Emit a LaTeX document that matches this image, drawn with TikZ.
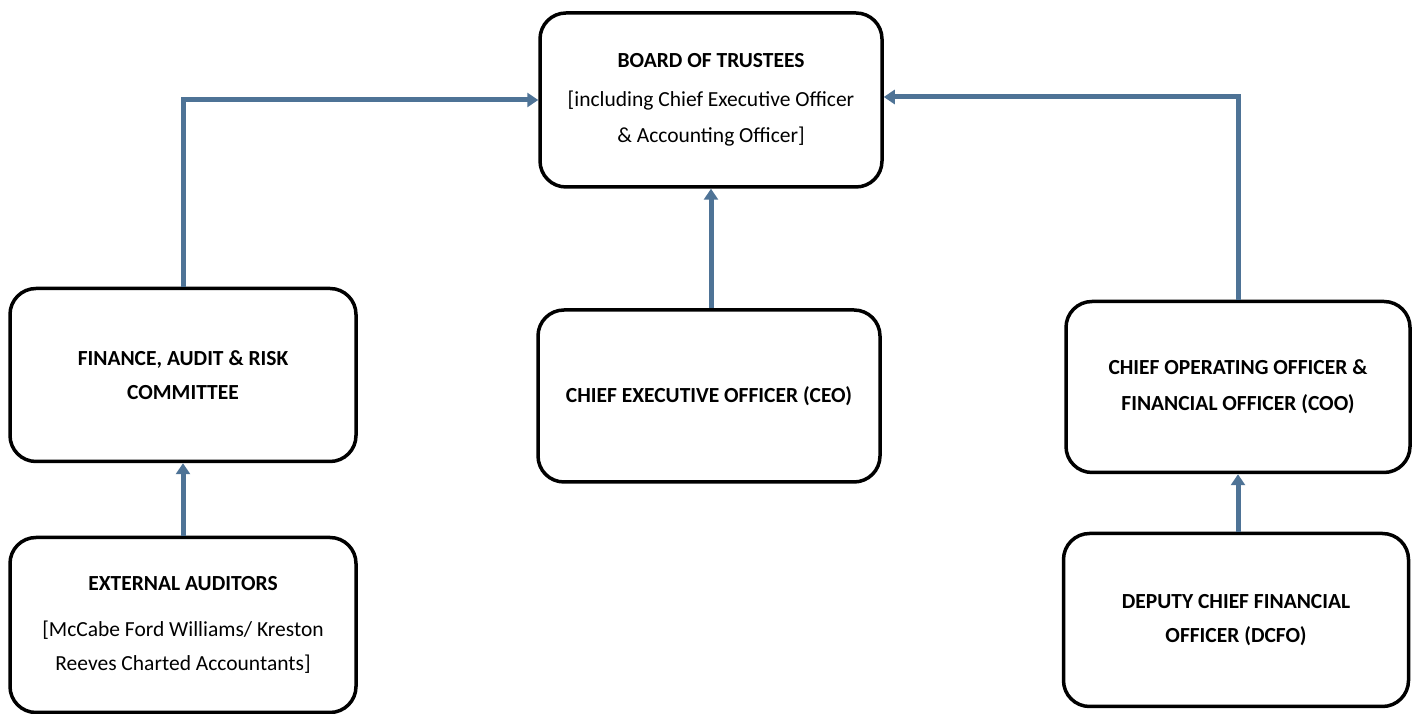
\documentclass[tikz,border=0pt]{standalone}
\usepackage{fontspec}
\setmainfont{Carlito}
\usetikzlibrary{arrows.meta}
\definecolor{arrowblue}{HTML}{4E7396}
\tikzset{
  box/.style={draw=black, line width=3.5pt, rounded corners=26pt, fill=white,
    align=center, inner sep=0pt, font=\fontsize{21.5pt}{34pt}\selectfont},
  conn/.style={draw=arrowblue, line width=5pt,
    -{Triangle[length=11pt,width=14pt]}},
}
\newcommand{\ttl}[1]{\textbf{#1}}
\begin{document}
\begin{tikzpicture}[x=1pt,y=1pt]
\useasboundingbox (0,0) rectangle (1416,714);
% boxes: centre (px, 714-py)
\node[box, minimum width=342pt, minimum height=174pt] (board) at (711,614)
  {\ttl{BOARD OF TRUSTEES}\\[5pt][including Chief Executive Officer\\[2pt]\& Accounting Officer]};
\node[box, minimum width=346pt, minimum height=173pt] (fin) at (183,339)
  {\ttl{FINANCE, AUDIT \& RISK}\\\ttl{COMMITTEE}};
\node[box, minimum width=342pt, minimum height=172pt] (ceo) at (709,318)
  {\ttl{CHIEF EXECUTIVE OFFICER (CEO)}};
\node[box, minimum width=344pt, minimum height=171pt] (coo) at (1238,327)
  {\ttl{CHIEF OPERATING OFFICER \&}\\[2pt]\ttl{FINANCIAL OFFICER (COO)}};
\node[box, minimum width=346pt, minimum height=175pt] (ext) at (183,89)
  {\ttl{EXTERNAL AUDITORS}\\[12pt][McCabe Ford Williams/ Kreston\\Reeves Charted Accountants]};
\node[box, minimum width=345pt, minimum height=173pt] (dcfo) at (1236,94)
  {\ttl{DEPUTY CHIEF FINANCIAL}\\\ttl{OFFICER (DCFO)}};
% connectors
\draw[conn] (fin.north) |- (board.west);
\draw[conn] (coo.north) |- ([yshift=3pt]board.east);
\draw[conn] ([xshift=2pt]ceo.north) -- ([xshift=2pt]ceo.north |- board.south);
\draw[conn] (ext.north) -- (fin.south);
\draw[conn] ([xshift=2pt]dcfo.north) -- ([xshift=2pt]dcfo.north |- coo.south);
\end{tikzpicture}
\end{document}
